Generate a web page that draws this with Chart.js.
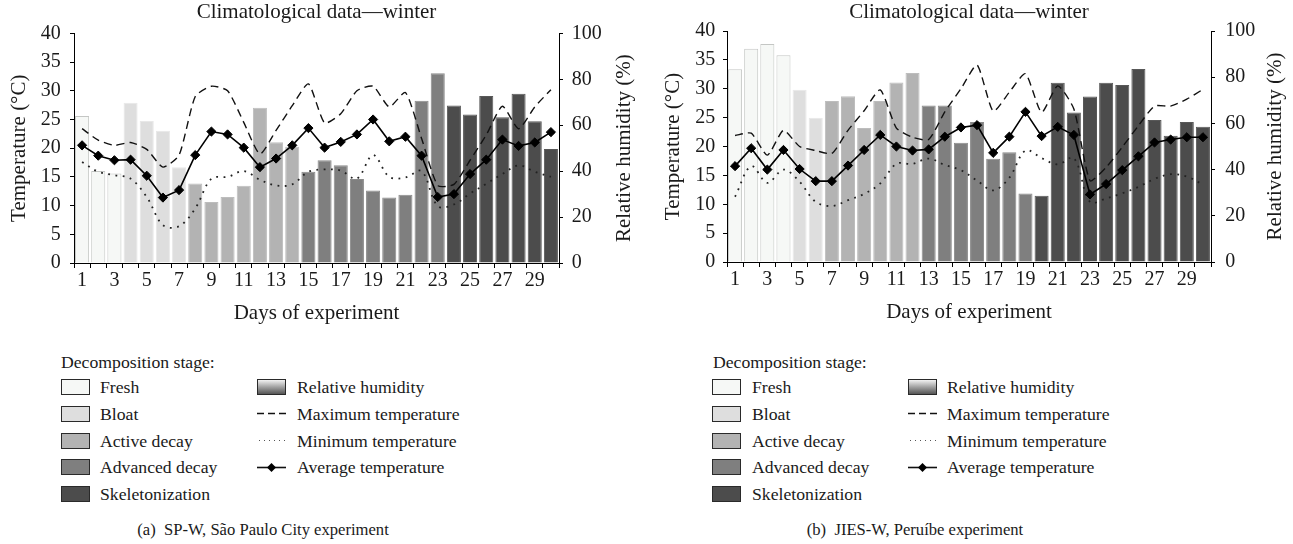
<!DOCTYPE html>
<html><head><meta charset="utf-8">
<script src="https://cdn.jsdelivr.net/npm/chart.js@4.4.1/dist/chart.umd.min.js"></script>
<style>
html,body{margin:0;padding:0;background:#fff;}
body{width:1293px;height:544px;position:relative;overflow:hidden;font-family:"Liberation Serif",serif;color:#1a1a1a;}
canvas{position:absolute;}
.t{position:absolute;font-size:17.7px;line-height:20px;white-space:nowrap;}
.box{position:absolute;width:27px;height:14px;border:1px solid #2a2a2a;box-sizing:content-box;}
.cap{position:absolute;font-size:16.6px;line-height:20px;white-space:nowrap;transform:translateX(-50%);}
svg{position:absolute;overflow:visible;}
</style></head><body>
<canvas id="ca" width="640" height="328" style="left:0;top:0"></canvas>
<canvas id="cb" width="643" height="328" style="left:650px;top:0"></canvas>
<div id="leg"></div>
<script>
// ---------- data ----------
const days = ['1','2','3','4','5','6','7','8','9','10','11','12','13','14','15','16','17','18','19','20','21','22','23','24','25','26','27','28','29','30'];
const stageNames = ['Fresh','Bloat','Active decay','Advanced decay','Skeletonization'];
const lineNames = ['Relative humidity','Maximum temperature','Minimum temperature','Average temperature'];
const chartTitle = 'Climatological data\u2014winter';
const xTitle = 'Days of experiment';
const yTitle = 'Temperature (\u00B0C)';
const y1Title = 'Relative humidity (%)';

// Panel (a) SP-W, São Paulo City
const captionA = '(a)\u2002SP-W, S\u00E3o Paulo City experiment';
const humA = [64.0,40.1,39.0,69.8,61.8,57.6,41.7,34.6,26.6,28.7,33.6,67.6,52.6,50.6,39.7,44.8,42.6,36.6,31.6,28.5,29.7,70.7,82.6,68.6,64.7,72.7,63.5,73.7,61.7,49.6];
const stageA = [0,0,0,1,1,1,1,2,2,2,2,2,2,2,3,3,3,3,3,3,3,3,3,4,4,4,4,4,4,4];
const maxA = [23.4,21.4,20.5,21.0,19.8,16.7,18.8,29.0,30.8,30.0,24.5,19.0,23.1,27.4,31.2,24.4,26.0,30.0,30.8,27.2,29.7,21.7,13.5,13.7,17.9,22.3,27.3,23.4,27.2,30.2];
const minA = [17.6,15.9,15.3,14.7,11.5,6.6,6.4,9.5,14.7,15.0,16.0,14.5,13.5,13.7,15.9,16.3,16.1,14.7,18.8,15.0,14.9,16.0,9.9,10.2,12.1,13.8,15.5,17.0,15.9,15.0];
const avgA = [20.5,18.7,17.9,18.0,15.2,11.4,12.7,18.8,22.9,22.4,20.1,16.7,18.2,20.5,23.5,20.1,21.1,22.4,25.0,21.2,22.0,18.7,11.5,12.0,15.5,18.0,21.5,20.4,21.0,22.8];

// Panel (b) JIES-W, Peruíbe
const captionB = '(b)\u2002JIES-W, Peru\u00EDbe experiment';
const humB = [83.4,92.3,94.4,89.5,74.6,62.5,69.7,71.7,58.0,69.7,77.7,81.8,67.7,67.7,51.6,60.6,44.7,47.5,29.6,28.7,77.6,64.7,71.6,77.6,76.6,83.6,61.5,54.6,60.6,58.6];
const stageB = [0,0,0,0,1,1,2,2,2,2,2,2,3,3,3,3,3,3,3,4,4,4,4,4,4,4,4,4,4,4];
const maxB = [21.9,22.3,18.5,22.8,20.0,19.3,18.8,22.8,26.2,29.8,23.2,21.6,21.2,26.0,30.0,34.1,26.1,29.4,32.6,25.9,30.5,26.5,14.1,16.4,19.9,23.6,27.0,27.0,28.2,29.9];
const minB = [11.3,16.6,13.7,16.0,13.9,10.4,9.7,10.7,11.8,13.6,17.0,17.0,17.9,16.8,15.9,14.1,12.4,14.6,19.3,18.0,16.9,18.0,10.4,11.0,11.9,13.0,14.4,15.2,14.8,13.4];
const avgB = [16.6,19.7,16.0,19.4,16.1,14.0,14.0,16.7,19.4,22.0,20.0,19.3,19.5,21.7,23.3,23.7,18.9,21.7,26.0,21.8,23.4,22.0,11.7,13.5,15.9,18.3,20.7,21.2,21.6,21.6];

// ---------- styles ----------
const FONT = '"Liberation Serif", serif';
const INK = '#1a1a1a';
const stageFill = ['#f6f8f6','#dedede','#b3b3b3','#7f7f7f','#4c4c4c'];
const stageEdge = ['#c4c6c4','#e8e8e8','#bdbdbd','#8a8a8a','#585858'];

Chart.defaults.font.family = FONT;
Chart.defaults.color = INK;

// right-axis title, read bottom-to-top like the reference
const rightTitle = {
  id:'rightTitle',
  afterDraw(chart, args, opts){
    const s = chart.scales.y1, ctx = chart.ctx;
    ctx.save();
    ctx.translate(opts.x, (s.top + s.bottom)/2);
    ctx.rotate(-Math.PI/2);
    ctx.font = '21px ' + FONT;
    ctx.fillStyle = INK; ctx.textAlign = 'center'; ctx.textBaseline = 'middle';
    ctx.fillText(opts.text, 0, 0);
    ctx.restore();
  }
};

function makeChart(id, d, L) {
  return new Chart(document.getElementById(id), {
    data: {
      labels: days,
      datasets: [
        {type:'line', label:lineNames[3], data:d.avg, yAxisID:'y', borderColor:'#000', borderWidth:1.6,
         pointStyle:'rectRot', pointRadius:4.6, pointBackgroundColor:'#000', pointBorderColor:'#000', pointBorderWidth:1, tension:0, order:0},
        {type:'line', label:lineNames[1], data:d.max, yAxisID:'y', borderColor:'#111', borderWidth:1.4,
         borderDash:[8,5], pointRadius:0, tension:0.2, order:1},
        {type:'line', label:lineNames[2], data:d.min, yAxisID:'y', borderColor:'#222', borderWidth:1.8,
         borderDash:[1.8,5.5], pointRadius:0, tension:0.35, order:2},
        {type:'bar', label:lineNames[0], data:d.hum, yAxisID:'y1',
         backgroundColor:d.stage.map(s=>stageFill[s]), borderColor:d.stage.map(s=>stageEdge[s]), borderWidth:1,
         categoryPercentage:1, barPercentage:0.87, order:5}
      ]
    },
    plugins:[rightTitle],
    options: {
      responsive:false, animation:false, devicePixelRatio:1,
      layout:{padding:{left:0,right:0,top:0,bottom:L.padBottom}},
      plugins:{
        legend:{display:false}, tooltip:{enabled:false},
        rightTitle:{text:y1Title, x:L.y1TitleX},
        title:{display:true, text:chartTitle, fullSize:false, color:INK,
               font:{family:FONT,size:21,weight:'normal'}, padding:{top:0,bottom:L.titlePad}}
      },
      scales:{
        x:{type:'category', offset:true,
           grid:{display:true, offset:true, drawOnChartArea:false, drawTicks:true, tickLength:5, color:'#000', lineWidth:1},
           border:{display:true, color:'#000', width:1},
           ticks:{autoSkip:false, maxRotation:0, minRotation:0, padding:1, color:INK, font:{family:FONT,size:20},
                  callback:(v,i)=> (i%2===0 ? days[i] : '')},
           title:{display:true, text:xTitle, color:INK, font:{family:FONT,size:21}, padding:{top:0,bottom:2.1}},
           afterFit:s=>{s.height=65;}},
        y:{position:'left', min:0, max:40,
           grid:{display:true, drawOnChartArea:false, drawTicks:true, tickLength:4, color:'#000'},
           border:{display:true, color:'#000', width:1},
           ticks:{stepSize:5, padding:L.yTickPad, color:INK, font:{family:FONT,size:20}},
           title:{display:true, text:yTitle, color:INK, font:{family:FONT,size:21}, padding:{top:L.yTitlePad,bottom:0}},
           afterFit:s=>{s.width=L.yW;}},
        y1:{position:'right', min:0, max:100,
           grid:{display:true, drawOnChartArea:false, drawTicks:true, tickLength:4, color:'#000'},
           border:{display:true, color:'#000', width:1},
           ticks:{stepSize:10, padding:L.y1TickPad, color:INK, font:{family:FONT,size:20}},
           title:{display:false},
           afterFit:s=>{s.width=L.y1W;}}
      }
    }
  });
}

makeChart('ca', {hum:humA, stage:stageA, max:maxA, min:minA, avg:avgA},
  {padBottom:0, titlePad:8.2, yW:74, y1W:81, yTickPad:9.3, y1TickPad:8.7, yTitlePad:6.9, y1TitleX:624});
makeChart('cb', {hum:humB, stage:stageB, max:maxB, min:minB, avg:avgB},
  {padBottom:1, titlePad:5.8, yW:77, y1W:82, yTickPad:7.7, y1TickPad:10.3, yTitlePad:10.9, y1TitleX:625});

// ---------- legends (HTML) ----------
const leg = document.getElementById('leg');
const rowY = [386.7, 413.7, 440.5, 467.2, 493.5];
function el(tag, cls, css, txt){ const e=document.createElement(tag); if(cls) e.className=cls; Object.assign(e.style, css); if(txt!==undefined) e.textContent=txt; leg.appendChild(e); return e; }
function svgSample(x, y, kind){
  const ns='http://www.w3.org/2000/svg';
  const s=document.createElementNS(ns,'svg');
  s.setAttribute('width','29'); s.setAttribute('height','15');
  s.style.left=x+'px'; s.style.top=(y-7.5)+'px';
  const ln=document.createElementNS(ns,'line');
  ln.setAttribute('x1','0'); ln.setAttribute('x2','29'); ln.setAttribute('y1','7.5'); ln.setAttribute('y2','7.5');
  ln.setAttribute('stroke','#111');
  if(kind==='max'){ ln.setAttribute('stroke-width','1.3'); ln.setAttribute('stroke-dasharray','7,4'); }
  if(kind==='min'){ ln.setAttribute('x1','2'); ln.setAttribute('stroke','#555'); ln.setAttribute('stroke-width','1'); ln.setAttribute('stroke-dasharray','1,4'); }
  if(kind==='avg'){ ln.setAttribute('stroke-width','1.6'); }
  s.appendChild(ln);
  if(kind==='avg'){
    const p=document.createElementNS(ns,'polygon');
    p.setAttribute('points','14.5,3 19,7.5 14.5,12 10,7.5'); p.setAttribute('fill','#000');
    s.appendChild(p);
  }
  leg.appendChild(s);
}
function buildLegend(P){
  el('div','t',{left:P.head+'px', top:(361.7-10)+'px'}, 'Decomposition stage:');
  stageNames.forEach((n,i)=>{
    el('div','box',{left:P.box1+'px', top:(rowY[i]-8)+'px', background:stageFill[i]});
    el('div','t',{left:P.text1+'px', top:(rowY[i]-10)+'px'}, n);
  });
  el('div','box',{left:P.box2+'px', top:(rowY[0]-8)+'px', background:'linear-gradient(to bottom,#f2f2f2,#9a9a9a 55%,#555)'});
  el('div','t',{left:P.text2+'px', top:(rowY[0]-10)+'px'}, lineNames[0]);
  ['max','min','avg'].forEach((k,j)=>{
    svgSample(P.box2, rowY[j+1], k);
    el('div','t',{left:P.text2+'px', top:(rowY[j+1]-10)+'px'}, lineNames[j+1]);
  });
  el('div','cap',{left:P.cap+'px', top:(530-10)+'px'}, P.caption);
}
buildLegend({head:61, box1:61, text1:100, box2:257, text2:297, cap:263, caption:captionA});
buildLegend({head:713, box1:712, text1:752, box2:908, text2:947, cap:915, caption:captionB});
</script>
</body></html>
